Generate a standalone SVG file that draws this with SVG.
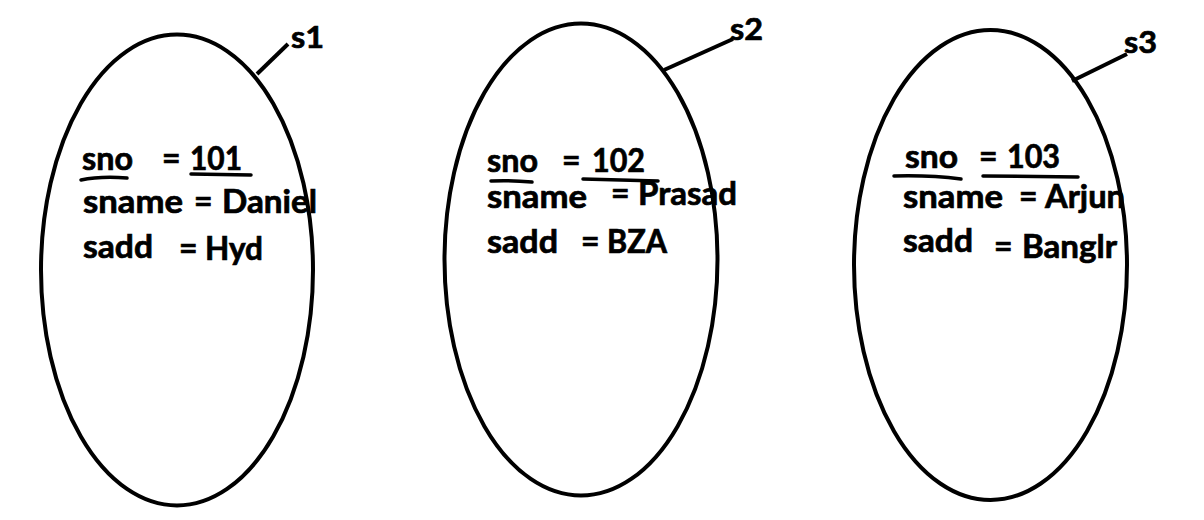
<svg xmlns="http://www.w3.org/2000/svg" width="1204" height="520" viewBox="0 0 1204 520">
<style>
.ov{fill:none;stroke:#000;stroke-width:4}
.t{font-family:Lato,"Liberation Sans",sans-serif;font-weight:bold;font-size:32px;fill:#000;stroke:#000;stroke-width:0.7}
.lb{font-family:Lato,"Liberation Sans",sans-serif;font-weight:bold;font-size:31px;fill:#000;stroke:#000;stroke-width:0.7}
.ul{fill:none;stroke:#000;stroke-width:3.5;stroke-linecap:round}
.ld{fill:none;stroke:#000;stroke-width:4}
</style>
<rect width="1204" height="520" fill="#fff"/>
<g id="connectors">
<line class="ld" x1="257" y1="74" x2="288" y2="44"/>
<line class="ld" x1="664" y1="70" x2="733" y2="39"/>
<line class="ld" x1="1072" y1="81" x2="1127" y2="54"/>
</g>
<g id="s1">
<ellipse class="ov" cx="177" cy="270" rx="136" ry="235.5"/>
<text class="lb" x="291" y="48" textLength="33" lengthAdjust="spacingAndGlyphs">s1</text>
<text class="t" x="82" y="170" textLength="51" lengthAdjust="spacingAndGlyphs">sno</text>
<text class="t" x="162" y="170">=</text>
<text class="t" x="190" y="170" textLength="52" lengthAdjust="spacingAndGlyphs">101</text>
<path class="ul" d="M81 180 Q100 176 127 178"/>
<path class="ul" d="M191 174 L251 175"/>
<text class="t" x="83" y="213" textLength="100" lengthAdjust="spacingAndGlyphs">sname</text>
<text class="t" x="194" y="213">=</text>
<text class="t" x="222" y="213" textLength="95" lengthAdjust="spacingAndGlyphs">Daniel</text>
<text class="t" x="83" y="258" textLength="70" lengthAdjust="spacingAndGlyphs">sadd</text>
<text class="t" x="179" y="260">=</text>
<text class="t" x="205" y="260" textLength="58" lengthAdjust="spacingAndGlyphs">Hyd</text>
</g>
<g id="s2">
<ellipse class="ov" cx="581" cy="259.5" rx="136.5" ry="236"/>
<text class="lb" x="730" y="40" textLength="33" lengthAdjust="spacingAndGlyphs">s2</text>
<text class="t" x="487" y="172" textLength="51" lengthAdjust="spacingAndGlyphs">sno</text>
<text class="t" x="562" y="172">=</text>
<text class="t" x="592" y="172" textLength="53" lengthAdjust="spacingAndGlyphs">102</text>
<path class="ul" d="M491 181 Q510 180 532 182"/>
<path class="ul" d="M583 179 L658 181"/>
<text class="t" x="487" y="208" textLength="100" lengthAdjust="spacingAndGlyphs">sname</text>
<text class="t" x="611" y="205">=</text>
<text class="t" x="638" y="205" textLength="99" lengthAdjust="spacingAndGlyphs">Prasad</text>
<text class="t" x="487" y="253" textLength="71" lengthAdjust="spacingAndGlyphs">sadd</text>
<text class="t" x="581" y="253">=</text>
<text class="t" x="607" y="253" textLength="60" lengthAdjust="spacingAndGlyphs">BZA</text>
</g>
<g id="s3">
<ellipse class="ov" cx="990.5" cy="265" rx="136.5" ry="235"/>
<text class="lb" x="1124" y="53" textLength="33" lengthAdjust="spacingAndGlyphs">s3</text>
<text class="t" x="905" y="168" textLength="53" lengthAdjust="spacingAndGlyphs">sno</text>
<text class="t" x="979" y="168">=</text>
<text class="t" x="1007" y="168" textLength="53" lengthAdjust="spacingAndGlyphs">103</text>
<path class="ul" d="M894 176 Q930 175 961 179"/>
<path class="ul" d="M983 176 L1078 177"/>
<text class="t" x="903" y="208" textLength="100" lengthAdjust="spacingAndGlyphs">sname</text>
<text class="t" x="1019" y="208">=</text>
<text class="t" x="1045" y="208" textLength="80" lengthAdjust="spacingAndGlyphs">Arjun</text>
<text class="t" x="903" y="252" textLength="70" lengthAdjust="spacingAndGlyphs">sadd</text>
<text class="t" x="994" y="258">=</text>
<text class="t" x="1022" y="258" textLength="95" lengthAdjust="spacingAndGlyphs">Banglr</text>
</g>
</svg>
